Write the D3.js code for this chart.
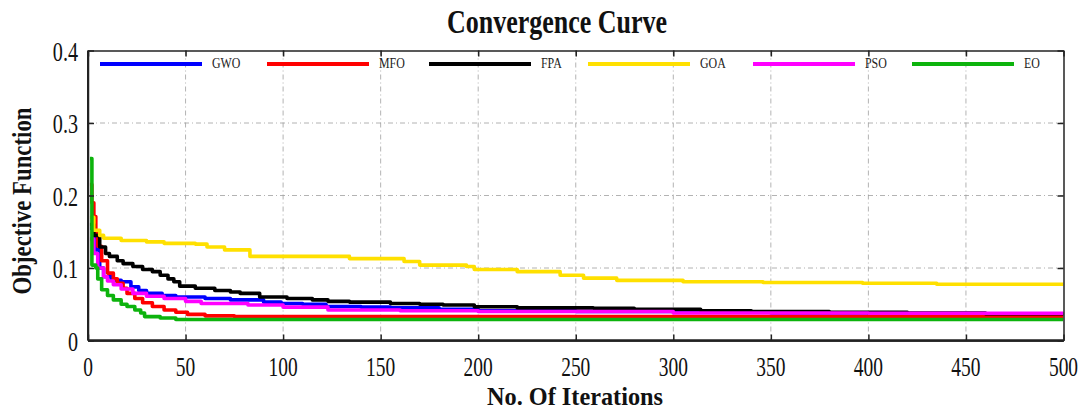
<!DOCTYPE html>
<html>
<head>
<meta charset="utf-8">
<script src="https://cdn.jsdelivr.net/npm/d3@7"></script>
<style>
  html, body { margin: 0; padding: 0; background: #fff; }
  svg { display: block; }
</style>
</head>
<body>
<svg id="chart" width="1086" height="412"></svg>
<script>
// ---------- data ----------
const seriesNames = ["GWO", "MFO", "FPA", "GOA", "PSO", "EO"];
const xTicks = [0, 50, 100, 150, 200, 250, 300, 350, 400, 450, 500];
const yTicks = [0, 0.1, 0.2, 0.3, 0.4];
const yTickLabels = ["0", "0.1", "0.2", "0.3", "0.4"];

const iterGWO = [1, 3, 4, 6, 8, 12, 17, 22, 26, 30, 38, 45, 60, 73, 90, 99, 110, 122, 140, 155, 180, 200, 250, 300, 350, 400, 450, 500];
const valGWO  = [0.155, 0.14, 0.125, 0.10, 0.088, 0.083, 0.081, 0.074, 0.069, 0.065, 0.062, 0.060, 0.058, 0.056, 0.053, 0.051, 0.050, 0.047, 0.046, 0.045, 0.043, 0.041, 0.040, 0.039, 0.038, 0.037, 0.036, 0.036];

const iterMFO = [1, 2, 3, 4, 5, 7, 10, 13, 15, 18, 20, 24, 28, 33, 39, 45, 51, 60, 75, 500];
const valMFO  = [0.215, 0.19, 0.171, 0.15, 0.13, 0.11, 0.093, 0.085, 0.079, 0.072, 0.065, 0.058, 0.052, 0.047, 0.042, 0.039, 0.036, 0.034, 0.033, 0.033];

const iterFPA = [1, 3, 6, 9, 11, 15, 18, 23, 28, 33, 37, 41, 44, 47, 55, 65, 73, 78, 88, 102, 115, 123, 134, 155, 170, 182, 198, 220, 259, 280, 314, 340, 380, 420, 460, 500];
const valFPA  = [0.16, 0.145, 0.129, 0.12, 0.116, 0.11, 0.106, 0.102, 0.098, 0.095, 0.09, 0.085, 0.081, 0.075, 0.072, 0.069, 0.067, 0.065, 0.060, 0.058, 0.056, 0.054, 0.053, 0.051, 0.050, 0.049, 0.0466, 0.045, 0.0444, 0.043, 0.041, 0.040, 0.039, 0.038, 0.037, 0.037];

const iterGOA = [1, 3, 6, 8, 17, 30, 39, 55, 61, 70, 83, 134, 162, 170, 194, 198, 220, 242, 254, 271, 305, 346, 397, 435, 500];
const valGOA  = [0.17, 0.152, 0.145, 0.141, 0.138, 0.136, 0.134, 0.133, 0.129, 0.125, 0.116, 0.113, 0.109, 0.104, 0.102, 0.098, 0.095, 0.090, 0.086, 0.083, 0.081, 0.080, 0.079, 0.0775, 0.0775];

const iterPSO = [1, 3, 5, 8, 10, 13, 17, 23, 30, 39, 50, 58, 82, 100, 123, 160, 200, 300, 400, 500];
const valPSO  = [0.14, 0.12, 0.10, 0.088, 0.082, 0.077, 0.071, 0.065, 0.061, 0.058, 0.054, 0.051, 0.049, 0.046, 0.042, 0.041, 0.040, 0.038, 0.0375, 0.0375];

const iterEO = [1, 2, 4, 5, 7, 10, 13, 17, 20, 24, 27, 29, 37, 45, 500];
const valEO  = [0.251, 0.104, 0.10, 0.085, 0.07, 0.062, 0.056, 0.05, 0.047, 0.042, 0.038, 0.033, 0.031, 0.029, 0.029];

const colors = ["#0000ff", "#ff0000", "#000000", "#ffe000", "#ff00ff", "#0db30d"];
const iters = [iterGWO, iterMFO, iterFPA, iterGOA, iterPSO, iterEO];
const vals = [valGWO, valMFO, valFPA, valGOA, valPSO, valEO];

// ---------- layout ----------
const pLeft = 88, pRight = 1063.5, pTop = 50.5, pBottom = 340.5;
const svg = d3.select("#chart");
const x = d3.scaleLinear().domain([0, 500]).range([pLeft, pRight]);
const y = d3.scaleLinear().domain([0, 0.4]).range([pBottom, pTop]);
const serif = "Liberation Serif, Times New Roman, Tinos, serif";
const squeeze = 0.72;

// grid
const grid = svg.append("g").attr("stroke", "#a0a0a0").attr("stroke-width", 0.8)
  .attr("stroke-dasharray", "5,3,1,3");
xTicks.filter(t => t > 0 && t < 500).forEach(t => {
  grid.append("line").attr("x1", x(t)).attr("x2", x(t)).attr("y1", pTop).attr("y2", pBottom);
});
yTicks.filter(t => t > 0 && t < 0.4).forEach(t => {
  grid.append("line").attr("x1", pLeft).attr("x2", pRight).attr("y1", y(t)).attr("y2", y(t));
});

// clip
svg.append("clipPath").attr("id", "clip").append("rect")
  .attr("x", pLeft).attr("y", pTop).attr("width", pRight - pLeft).attr("height", pBottom - pTop);

// lines
const line = d3.line().x(d => x(d[0])).y(d => y(d[1])).curve(d3.curveStepAfter);
const plot = svg.append("g").attr("clip-path", "url(#clip)");
seriesNames.forEach((name, i) => {
  const data = iters[i].map((it, j) => [it, vals[i][j]]);
  plot.append("path").datum(data)
    .attr("d", line)
    .attr("fill", "none")
    .attr("stroke", colors[i])
    .attr("stroke-width", 3.6)
    .attr("stroke-linejoin", "round");
});

// axes (inward ticks on all four sides)
const axB = d3.axisBottom(x).tickValues(xTicks).tickSizeInner(-6).tickSizeOuter(0).tickFormat("");
const axT = d3.axisTop(x).tickValues(xTicks).tickSizeInner(-6).tickSizeOuter(0).tickFormat("");
const axL = d3.axisLeft(y).tickValues(yTicks).tickSizeInner(-6).tickSizeOuter(0).tickFormat("");
const axR = d3.axisRight(y).tickValues(yTicks).tickSizeInner(-6).tickSizeOuter(0).tickFormat("");
[[axB, `translate(0,${pBottom})`], [axT, `translate(0,${pTop})`], [axL, `translate(${pLeft},0)`], [axR, `translate(${pRight},0)`]]
  .forEach(([ax, tr]) => {
    const g = svg.append("g").attr("transform", tr).call(ax);
    g.selectAll("line").attr("stroke", "#222").attr("stroke-width", 1.5);
    g.select(".domain").attr("stroke", "#222").attr("stroke-width", 1.5);
  });
// thicker bottom & left axis
svg.append("line").attr("x1", pLeft).attr("x2", pRight).attr("y1", pBottom).attr("y2", pBottom)
  .attr("stroke", "#222").attr("stroke-width", 2.5);
svg.append("line").attr("x1", pLeft).attr("x2", pLeft).attr("y1", pTop).attr("y2", pBottom)
  .attr("stroke", "#222").attr("stroke-width", 2);

// tick labels (tall, narrow serif like the reference)
svg.append("g").selectAll("text").data(xTicks).join("text")
  .attr("transform", d => `translate(${x(d)},376) scale(${squeeze},1)`)
  .attr("text-anchor", "middle")
  .attr("font-family", serif).attr("font-size", 27)
  .attr("fill", "#111")
  .text(d => d);
svg.append("g").selectAll("text").data(yTicks).join("text")
  .attr("transform", d => `translate(78,${y(d) + 10}) scale(${squeeze},1)`)
  .attr("text-anchor", "end")
  .attr("font-family", serif).attr("font-size", 28)
  .attr("fill", "#111")
  .text((d, i) => yTickLabels[i]);

// title & axis titles
svg.append("text").attr("x", 557).attr("y", 33)
  .attr("text-anchor", "middle")
  .attr("font-family", serif).attr("font-weight", "bold").attr("font-size", 33)
  .attr("textLength", 220).attr("lengthAdjust", "spacingAndGlyphs")
  .attr("fill", "#111")
  .text("Convergence Curve");
svg.append("text").attr("x", 575).attr("y", 405)
  .attr("text-anchor", "middle")
  .attr("font-family", serif).attr("font-weight", "bold").attr("font-size", 26)
  .attr("textLength", 176).attr("lengthAdjust", "spacingAndGlyphs")
  .attr("fill", "#111")
  .text("No. Of Iterations");
svg.append("text").attr("transform", "translate(31,201) rotate(-90)")
  .attr("text-anchor", "middle")
  .attr("font-family", serif).attr("font-weight", "bold").attr("font-size", 28)
  .attr("textLength", 187).attr("lengthAdjust", "spacingAndGlyphs")
  .attr("fill", "#111")
  .text("Objective Function");

// legend (single row, inside top)
const legX1 = [100, 267, 429, 588, 753, 912];
const legend = svg.append("g");
seriesNames.forEach((name, i) => {
  legend.append("line")
    .attr("x1", legX1[i]).attr("x2", legX1[i] + 102)
    .attr("y1", 64).attr("y2", 64)
    .attr("stroke", colors[i]).attr("stroke-width", 4);
  legend.append("text")
    .attr("transform", `translate(${legX1[i] + 112},68) scale(0.85,1)`)
    .attr("font-family", serif).attr("font-size", 14)
    .attr("fill", "#222")
    .text(name);
});
</script>
</body>
</html>
